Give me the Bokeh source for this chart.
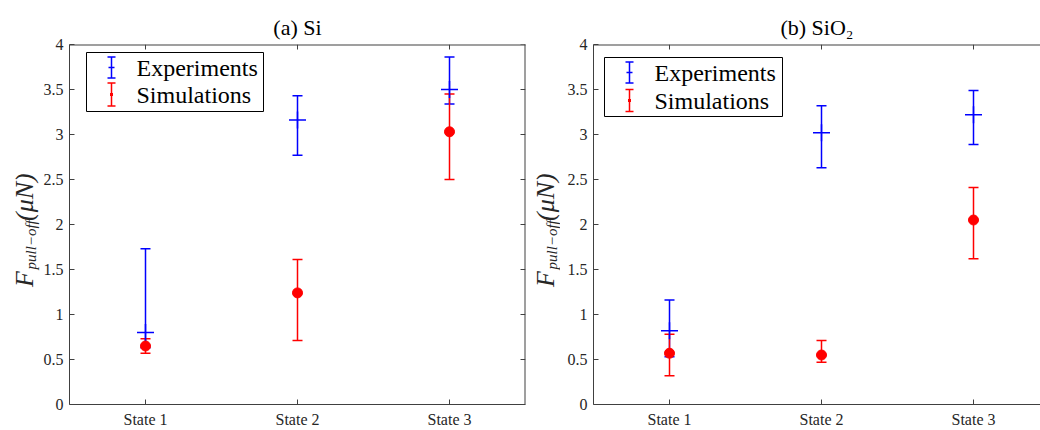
import math
from bokeh.plotting import figure
from bokeh.models import (ColumnDataSource, Whisker, TeeHead, Label, BoxAnnotation,
                          FixedTicker, Range1d, NumeralTickFormatter)
from bokeh.core.properties import value
from bokeh.layouts import row
from bokeh.embed import file_html
from bokeh.resources import INLINE

# ---------------- data ----------------
states = ["State 1", "State 2", "State 3"]

si_exp_mean = [0.80, 3.16, 3.50]
si_exp_low = [0.63, 2.77, 3.34]
si_exp_high = [1.73, 3.43, 3.86]
si_sim_mean = [0.65, 1.24, 3.03]
si_sim_low = [0.57, 0.71, 2.50]
si_sim_high = [0.73, 1.61, 3.45]

sio2_exp_mean = [0.82, 3.02, 3.22]
sio2_exp_low = [0.53, 2.63, 2.89]
sio2_exp_high = [1.16, 3.32, 3.49]
sio2_sim_mean = [0.57, 0.55, 2.05]
sio2_sim_low = [0.32, 0.47, 1.62]
sio2_sim_high = [0.78, 0.71, 2.41]

y_ticks = [0, 0.5, 1, 1.5, 2, 2.5, 3, 3.5, 4]
series_names = ["Experiments", "Simulations"]
titles = ["(a) Si", "(b) SiO\u2082"]
ylabel_parts = ["F", "pull\u2212off", "(\u03bcN)"]

# ---------------- style ----------------
FONT = "Liberation Serif"
AXIS_COLOR = "#404040"
TEXT_COLOR = "#262626"
BLUE = "#0000ff"
RED = "#ff0000"
FRAME_H = 360
TOP = 44
BOTTOM = 24
FIG_H = TOP + FRAME_H + BOTTOM
PX_PER_STATE = 152


def style_axis(ax):
    ax.axis_line_color = AXIS_COLOR
    ax.axis_line_width = 1
    ax.major_tick_line_color = AXIS_COLOR
    ax.major_tick_in = 5
    ax.major_tick_out = 0
    ax.minor_tick_line_color = None
    ax.major_label_text_font = FONT
    ax.major_label_text_color = TEXT_COLOR
    ax.major_label_text_font_size = "16px"
    ax.major_label_standoff = 6


def edge_whisker(p, dim, bases, lo, hi, width=1):
    src = ColumnDataSource(dict(b=bases, lo=[lo] * len(bases), hi=[hi] * len(bases)))
    p.add_layout(Whisker(source=src, base="b", lower="lo", upper="hi", dimension=dim,
                         base_units="data", lower_units="screen", upper_units="screen",
                         line_color=AXIS_COLOR, line_width=width,
                         upper_head=None, lower_head=None, level="overlay"))


def ylabel_fig(width, base_x):
    f = figure(width=width, height=FIG_H, x_range=Range1d(0, width), y_range=Range1d(0, FIG_H),
               output_backend="svg", toolbar_location=None, x_axis_type=None, y_axis_type=None,
               min_border=0)
    f.grid.visible = False
    f.outline_line_color = None
    # (text, start height from bottom, horizontal shift, font size)
    for txt, yy, dx, fs in zip(ylabel_parts, [138, 159, 217], [-8, -1.5, -8],
                               ["26px", "15px", "26px"]):
        f.text(x=[base_x + dx], y=[yy], text=[txt], angle=math.pi / 2,
               text_font=value(FONT), text_font_style="italic", text_font_size=fs,
               text_align="left", text_baseline="alphabetic", text_color=TEXT_COLOR)
    return f


def make_panel(title, exp, sim, frame_w, border_left, border_right, right_edge,
               legend_box, legend_icon_x, legend_text_x, legend_rows):
    xs = list(range(1, len(states) + 1))
    x_end = 0.5 + frame_w / PX_PER_STATE
    p = figure(frame_width=frame_w, frame_height=FRAME_H,
               x_range=Range1d(0.5, x_end), y_range=Range1d(0, 4),
               output_backend="svg", toolbar_location=None,
               min_border_left=border_left, min_border_right=border_right,
               min_border_top=TOP, min_border_bottom=BOTTOM)
    p.grid.visible = False
    p.outline_line_color = None
    p.background_fill_color = "white"
    p.border_fill_color = "white"

    p.title.text = title
    p.title.align = "center"
    p.title.text_font = FONT
    p.title.text_font_size = "22px"
    p.title.text_font_style = "normal"
    p.title.text_color = "black"

    p.xaxis.ticker = FixedTicker(ticks=xs)
    p.xaxis.major_label_overrides = {x: s for x, s in zip(xs, states)}
    style_axis(p.xaxis[0])
    p.yaxis.ticker = FixedTicker(ticks=y_ticks)
    p.yaxis.formatter = NumeralTickFormatter(format="0.[0]")
    style_axis(p.yaxis[0])

    # box: top line + inward ticks, right line (if visible) + inward ticks
    edge_whisker(p, "width", [4], 0, frame_w + 2, width=2)
    edge_whisker(p, "height", xs, FRAME_H - 5, FRAME_H)
    if right_edge:
        edge_whisker(p, "height", [0.5 + frame_w / PX_PER_STATE], 0, FRAME_H + 2, width=2)
        edge_whisker(p, "width", y_ticks, frame_w - 5, frame_w)

    # data
    for (mean, low, high), color, marker, size in [
        (exp, BLUE, "cross", 17),
        (sim, RED, "circle", 10),
    ]:
        src = ColumnDataSource(dict(x=xs, y=mean, lo=low, hi=high))
        p.add_layout(Whisker(source=src, base="x", lower="lo", upper="hi",
                             line_color=color, line_width=1.5,
                             upper_head=TeeHead(size=10, line_color=color, line_width=1.5),
                             lower_head=TeeHead(size=10, line_color=color, line_width=1.5)))
        if marker == "cross":
            p.scatter("x", "y", source=src, marker="cross", size=size,
                      line_color=color, line_width=1.5)
        else:
            p.scatter("x", "y", source=src, marker="circle", size=size,
                      fill_color=color, line_color=color)

    # legend
    l, r, t, b = legend_box
    p.add_layout(BoxAnnotation(left=l, right=r, top=t, bottom=b,
                               left_units="screen", right_units="screen",
                               top_units="screen", bottom_units="screen",
                               fill_color="white", fill_alpha=1.0,
                               line_color="black", line_width=1, line_alpha=1.0,
                               level="annotation"))
    for name, color, (yc, half) in zip(series_names, [BLUE, RED], legend_rows):
        src = ColumnDataSource(dict(x=[legend_icon_x], lo=[yc - half], hi=[yc + half]))
        p.add_layout(Whisker(source=src, base="x", lower="lo", upper="hi",
                             base_units="screen", lower_units="screen", upper_units="screen",
                             line_color=color, line_width=1.5, level="overlay",
                             upper_head=TeeHead(size=8, line_color=color, line_width=1.5),
                             lower_head=TeeHead(size=8, line_color=color, line_width=1.5)))
        hw = 3 if color == BLUE else 1.5
        mk = ColumnDataSource(dict(y=[yc], lo=[legend_icon_x - hw], hi=[legend_icon_x + hw]))
        p.add_layout(Whisker(source=mk, base="y", lower="lo", upper="hi", dimension="width",
                             base_units="screen", lower_units="screen", upper_units="screen",
                             line_color=color, line_width=1.5 if color == BLUE else 3,
                             upper_head=None, lower_head=None, level="overlay"))
        p.add_layout(Label(x=legend_text_x, y=yc, x_units="screen", y_units="screen",
                           text=name, text_align="left", text_baseline="middle",
                           text_font=FONT, text_font_size="24px", text_color="black",
                           level="overlay"))
    return p


ylab1 = ylabel_fig(40, 32)
p1 = make_panel(titles[0], (si_exp_mean, si_exp_low, si_exp_high),
                (si_sim_mean, si_sim_low, si_sim_high),
                frame_w=456, border_left=29, border_right=4, right_edge=True,
                legend_box=(17, 194, 352, 293), legend_icon_x=42, legend_text_x=67,
                legend_rows=[(337, 10.5), (310, 11.5)])
ylab2 = ylabel_fig(31, 24)
p2 = make_panel(titles[1], (sio2_exp_mean, sio2_exp_low, sio2_exp_high),
                (sio2_sim_mean, sio2_sim_low, sio2_sim_high),
                frame_w=447, border_left=33, border_right=0, right_edge=False,
                legend_box=(11, 189, 347, 288), legend_icon_x=36, legend_text_x=61,
                legend_rows=[(332, 10.5), (304, 11)])

layout = row(ylab1, p1, ylab2, p2)
open("out.html", "w").write(file_html(layout, INLINE))
